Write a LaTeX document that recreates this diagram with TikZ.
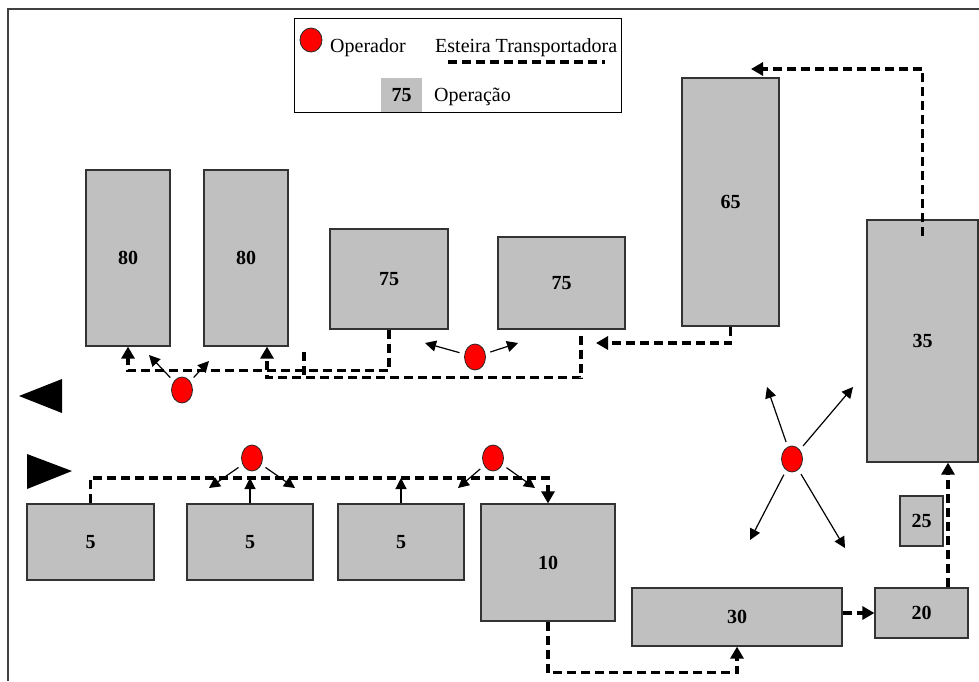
\documentclass[tikz,border=0pt]{standalone}
\usepackage{fontspec}
\setmainfont{Liberation Serif}
\usetikzlibrary{arrows.meta, positioning, shapes.geometric}
\definecolor{silver}{RGB}{192,192,192}
\definecolor{opred}{RGB}{255,0,0}

\begin{document}
\begin{tikzpicture}[x=1pt, y=-1pt,
  machine/.style={draw=black!80, line width=1.2pt, fill=silver, inner sep=0pt, font=\fontsize{20}{24}\selectfont\bfseries},
  worker/.style={ellipse, draw=black!85, line width=0.8pt, fill=opred, minimum width=21pt, minimum height=26pt, inner sep=0pt}, % operador
  belt/.style={line width=3.2pt, dash pattern=on 9pt off 5pt},
  hand/.style={line width=1.2pt, shorten <=5pt, -{Triangle[length=11pt,width=11pt]}},
  rise/.style={line width=1.2pt, -{Triangle[length=11pt,width=11pt]}},
  lbl/.style={inner sep=0pt, font=\fontsize{20}{24}\selectfont},
  >={Triangle[length=12pt,width=13pt]}
]
\useasboundingbox (0,0) rectangle (979,681);

% Frame
\draw[line width=1.5pt, black!75] (8,681) -- (8,9) -- (979,9);

% Legend
\node[draw=black, line width=1pt, minimum width=327pt, minimum height=94pt, inner sep=0pt] (legend) at (457.5,65) {};
\node[worker, minimum width=22pt, minimum height=24pt] (lgop) at (311,40) {};
\node[lbl, anchor=base west] (lgoptxt) at (330,52) {Operador};
\node[lbl, anchor=base west] (lgbelt) at (435,52) {Esteira Transportadora};
\coordinate (lgb1) at (448,62);
\coordinate (lgb2) at (605,62);
\draw[belt] (lgb1) -- (lgb2);
\node[machine, draw=none, minimum width=41pt, minimum height=34pt] (lg75) at (401.5,95) {75};
\node[lbl, anchor=base west] (lgoptext) at (434,101) {Operação};

% Entry / exit
\fill (62,379) -- (19,396) -- (62,413) -- cycle;
\fill (27,454) -- (72,471) -- (27,489) -- cycle;

% Operations
\node[machine, minimum width=84pt, minimum height=176pt] (m80a) at (128,258) {80};
\node[machine, minimum width=84pt, minimum height=176pt] (m80b) at (246,258) {80};
\node[machine, minimum width=118pt, minimum height=100pt] (m75a) at (389,279) {75};
\node[machine, minimum width=127pt, minimum height=92pt] (m75b) at (561.5,283) {75};
\node[machine, minimum width=97pt, minimum height=248pt] (m65) at (730.5,202) {65};
\node[machine, minimum width=111pt, minimum height=242pt] (m35) at (922.5,341) {35};
\node[machine, minimum width=43pt, minimum height=50pt] (m25) at (921.5,521) {25};
\node[machine, minimum width=93pt, minimum height=50pt] (m20) at (921.5,613) {20};
\node[machine, minimum width=210pt, minimum height=58pt] (m30) at (737,617) {30};
\node[machine, minimum width=134pt, minimum height=117pt] (m10) at (548,562.5) {10};
\node[machine, minimum width=127pt, minimum height=76pt] (m5a) at (90.5,542) {5};
\node[machine, minimum width=126pt, minimum height=76pt] (m5b) at (250,542) {5};
\node[machine, minimum width=126pt, minimum height=76pt] (m5c) at (401,542) {5};

% Belts
\coordinate (b1) at (548,478);
\coordinate (b2) at (751,69);
\coordinate (b3) at (596,343);
\coordinate (s1) at (304,352);
\coordinate (s2) at (304,377);
\draw[belt,->] (m5a.north) |- (b1) -- (m10.north);
\draw[rise] (m5b.north) -- (m5b.north |- b1);
\draw[rise] (m5c.north) -- (m5c.north |- b1);
\draw[belt,->] (m10.south) -- ++(0,51) -| (m30.south);
\draw[belt,->] (m30.east |- m20) -- (m20.west);
\draw[belt,->] ([xshift=26.5pt]m20.north) -- ([xshift=26.5pt]m20.north |- m35.south);
\draw[belt,->] ([yshift=-17pt]m35.north) |- (b2);
\draw[belt,->] (m65.south) |- (b3);
\draw[belt,->] ([xshift=19.5pt,yshift=-6pt]m75b.south) -- ++(0,42) -| ([xshift=21pt]m80b.south);
\draw[belt,->] (m75a.south) -- ++(0,41) -| (m80a.south);
\draw[belt] (s1) -- (s2);

% Operators
\node[worker] (opL) at (182,390) {};
\node[worker] (opM) at (475,357) {};
\node[worker] (opA) at (252,458) {};
\node[worker] (opB) at (493,458) {};
\node[worker] (opX) at (792,459) {};
\coordinate (tL1) at (149,355);
\coordinate (tL2) at (209,361);
\coordinate (tM1) at (425,343);
\coordinate (tM2) at (518,343);
\coordinate (tA1) at (209,488);
\coordinate (tA2) at (295,488);
\coordinate (tB1) at (458,488);
\coordinate (tB2) at (535,488);
\coordinate (tX1) at (767,387);
\coordinate (tX2) at (853,387);
\coordinate (tX3) at (750,540);
\coordinate (tX4) at (845,548);
\foreach \o/\t in {opL/tL1, opL/tL2, opM/tM1, opM/tM2, opA/tA1, opA/tA2,
                   opB/tB1, opB/tB2, opX/tX1, opX/tX2, opX/tX3, opX/tX4}
  \draw[hand] (\o) -- (\t);

\end{tikzpicture}
\end{document}
